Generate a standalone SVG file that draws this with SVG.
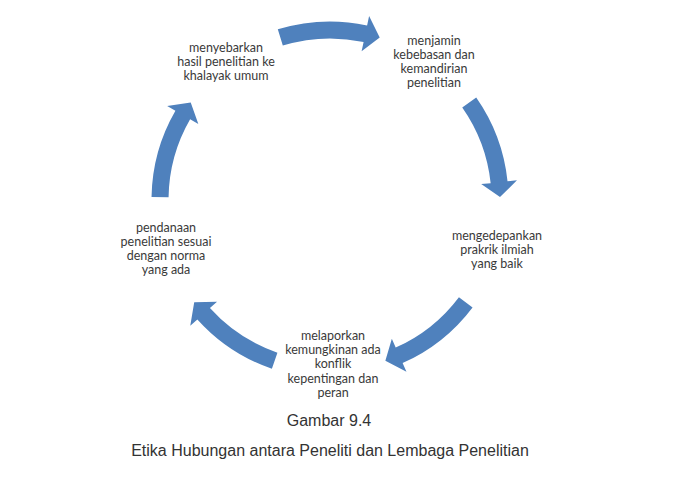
<svg xmlns="http://www.w3.org/2000/svg" xmlns:xlink="http://www.w3.org/1999/xlink" width="679" height="482" viewBox="0 0 679 482">
<style>
.node text{font-family:Lato,"Open Sans","Noto Sans",sans-serif;font-size:12.5px;fill:#3a3a3a;text-anchor:middle}
.cap{font-family:"Liberation Sans",Arial,sans-serif;font-size:16px;fill:#333;text-anchor:middle}
.arrow{fill:#4F81BD}
</style>
<defs>
<path id="arc" d="M 277.8,29.3 A 178.5,178.5 0 0,1 367.1,25.4 L 369.1,16.1 L 379.7,37.4 L 361.6,51.3 L 363.6,42.0 A 161.5,161.5 0 0,0 282.8,45.6 Z"/>
</defs>
<rect width="679" height="482" fill="#fff"/>
<g id="connectors">
<use xlink:href="#arc" class="arrow"/>
<use xlink:href="#arc" class="arrow" transform="rotate(72 330 200)"/>
<use xlink:href="#arc" class="arrow" transform="rotate(144 330 200)"/>
<use xlink:href="#arc" class="arrow" transform="rotate(216 330 200)"/>
<use xlink:href="#arc" class="arrow" transform="rotate(288 330 200)"/>
</g>
<g id="node1" class="node"><text x="434" y="45">menjamin</text><text x="434" y="59">kebebasan dan</text><text x="434" y="73">kemandirian</text><text x="434" y="87">penelitian</text></g>
<g id="node2" class="node"><text x="497" y="240">mengedepankan</text><text x="497" y="254">prakrik ilmiah</text><text x="497" y="268">yang baik</text></g>
<g id="node3" class="node"><text x="333" y="340">melaporkan</text><text x="333" y="354">kemungkinan ada</text><text x="333" y="368">konflik</text><text x="333" y="383">kepentingan dan</text><text x="333" y="397">peran</text></g>
<g id="node4" class="node"><text x="166" y="232">pendanaan</text><text x="166" y="246">penelitian sesuai</text><text x="166" y="260">dengan norma</text><text x="166" y="274">yang ada</text></g>
<g id="node5" class="node"><text x="226" y="52">menyebarkan</text><text x="226" y="66">hasil penelitian ke</text><text x="226" y="80">khalayak umum</text></g>
<g id="caption"><text class="cap" x="329" y="426">Gambar 9.4</text><text class="cap" x="330" y="456">Etika Hubungan antara Peneliti dan Lembaga Penelitian</text></g>
</svg>
